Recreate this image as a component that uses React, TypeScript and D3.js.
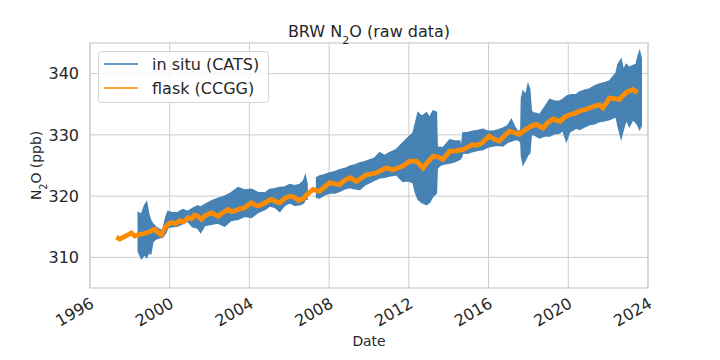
import React from 'react';
import * as d3 from 'd3';

// ---------- data (decimal years, ppb) ----------
const inSituYear = [
  1998.42, 1998.58, 1998.74, 1998.84, 1998.95, 1999.05, 1999.15, 1999.3, 1999.5, 1999.65,
  1999.8, 1999.91, 2000.1, 2000.4, 2000.65, 2000.9, 2001.15, 2001.4, 2001.55, 2001.75,
  2002.1, 2002.4, 2002.76, 2003.06, 2003.43, 2003.76, 2004.1, 2004.41, 2004.77, 2005.02,
  2005.27, 2005.52, 2005.77, 2006.02, 2006.27, 2006.52, 2006.72, 2006.8, 2006.89, 2007.1,
  2007.37, 2007.52, 2007.77, 2008.03, 2008.28, 2008.53, 2008.78, 2009.03, 2009.28, 2009.53,
  2009.78, 2010.03, 2010.28, 2010.53, 2010.78, 2011.03, 2011.37, 2011.7, 2011.94, 2012.21,
  2012.34, 2012.46, 2012.64, 2012.88, 2013.04, 2013.21, 2013.38, 2013.42, 2013.55, 2013.71,
  2014.05, 2014.3, 2014.55, 2014.63, 2014.71, 2014.95, 2015.22, 2015.45, 2015.72, 2015.96,
  2016.22, 2016.46, 2016.72, 2016.96, 2017.14, 2017.31, 2017.48, 2017.62, 2017.65, 2017.73,
  2017.86, 2017.98, 2018.06, 2018.14, 2018.21, 2018.4, 2018.56, 2018.81, 2019.07, 2019.32,
  2019.57, 2019.72, 2019.9, 2020.07, 2020.41, 2020.57, 2020.82, 2021.07, 2021.32, 2021.57,
  2021.82, 2022.07, 2022.4, 2022.49, 2022.65, 2022.77, 2022.9, 2023.07, 2023.23, 2023.4,
  2023.5, 2023.58, 2023.66,
];
const inSituHigh = [
  317.3, 317.0, 318.5, 319.0, 317.0, 316.0, 315.5, 315.0, 314.5, 314.4,
  316.5, 317.5, 317.3, 317.3, 317.8, 317.5, 318.0, 318.4, 318.2, 318.6,
  319.2, 319.6, 320.0, 320.5, 321.4, 321.0, 321.1, 320.6, 320.5, 321.1,
  321.2, 321.4, 321.5, 321.9, 321.7, 321.9, 322.5, 323.3, 322.0, NaN,
  323.0, 323.3, 323.5, 323.8, 324.0, 324.3, 324.5, 324.9, 325.1, 325.4,
  325.6, 325.9, 326.2, 327.1, 326.6, 327.1, 327.6, 328.7, 329.5, 330.3,
  332.0, 333.6, 333.0, 333.6, 332.8, 333.9, 333.7, 328.0, 328.0, 327.9,
  329.2, 329.0, 329.0, 327.5, 330.3, 330.4, 330.6, 330.7, 330.9, 330.6,
  330.6, 330.8, 331.1, 331.5, 332.5, 331.3, 330.5, 330.8, 336.0, 337.1,
  336.5, 338.2, 337.5, 334.0, 333.6, 333.5, 333.3, 334.5, 335.8, 335.5,
  335.5, 335.8, 336.3, 336.5, 336.6, 337.0, 337.3, 337.5, 338.0, 338.3,
  338.5, 338.8, 340.1, 341.5, 342.3, 340.5, 341.5, 341.0, 341.3, 341.5,
  342.8, 343.6, 342.5,
];
const inSituLow = [
  311.0, 309.8, 310.5, 310.0, 310.8, 310.6, 312.5, 313.0, 313.2, 313.3,
  314.0, 314.9, 315.0, 315.1, 315.5, 315.9, 315.0, 314.8, 314.1, 315.2,
  315.4, 315.6, 315.1, 316.0, 316.2, 316.7, 316.5, 317.3, 317.8, 318.4,
  318.2, 317.5, 318.5, 318.9, 318.5, 318.6, 318.9, 319.5, 319.5, NaN,
  319.8, 319.7, 320.2, 320.5, 320.5, 320.8, 321.2, 321.4, 321.2, 321.1,
  321.8, 322.2, 322.6, 323.0, 323.1, 323.3, 323.5, 322.4, 322.5, 322.2,
  320.5, 319.5, 319.0, 318.6, 319.0, 320.0, 320.5, 324.5, 325.0, 325.2,
  325.4, 325.6, 326.0, 326.3, 327.1, 327.0, 327.3, 327.5, 327.6, 328.0,
  328.2, 328.3, 328.2, 328.8, 329.0, 329.2, 329.2, 328.8, 326.5, 325.2,
  326.0, 326.8, 327.0, 330.0, 330.1, 329.8, 329.5, 329.8, 329.8, 330.2,
  330.3, 330.8, 329.0, 330.5, 331.1, 330.9, 331.3, 331.7, 331.8, 332.2,
  332.3, 332.5, 333.0, 331.5, 329.5, 331.0, 332.5, 331.4, 332.5, 332.0,
  331.5, 330.9, 331.5,
];

const flaskYear = [
  1997.32, 1997.49, 1997.74, 1998.08, 1998.24, 1998.41, 1998.74, 1999.0, 1999.25, 1999.42,
  1999.58, 1999.75, 1999.91, 2000.08, 2000.3, 2000.5, 2000.7, 2000.92, 2001.09, 2001.25,
  2001.42, 2001.59, 2001.76, 2001.91, 2002.09, 2002.26, 2002.42, 2002.66, 2002.92, 2003.09,
  2003.26, 2003.51, 2003.76, 2003.91, 2004.1, 2004.26, 2004.43, 2004.6, 2004.77, 2004.93,
  2005.1, 2005.27, 2005.52, 2005.77, 2006.01, 2006.27, 2006.47, 2006.69, 2006.9, 2007.19,
  2007.36, 2007.52, 2007.77, 2008.03, 2008.28, 2008.53, 2008.78, 2009.03, 2009.37, 2009.58,
  2009.87, 2010.08, 2010.37, 2010.59, 2010.87, 2011.2, 2011.44, 2011.7, 2012.04, 2012.38,
  2012.54, 2012.71, 2012.95, 2013.21, 2013.45, 2013.71, 2014.05, 2014.35, 2014.71, 2014.95,
  2015.18, 2015.42, 2015.68, 2016.03, 2016.27, 2016.53, 2016.78, 2017.04, 2017.29, 2017.54,
  2017.88, 2018.13, 2018.4, 2018.73, 2018.97, 2019.23, 2019.57, 2019.82, 2020.07, 2020.32,
  2020.57, 2020.82, 2021.07, 2021.32, 2021.57, 2021.73, 2021.86, 2022.07, 2022.32, 2022.57,
  2022.73, 2022.9, 2023.23, 2023.48,
];
const flaskValue = [
  313.3, 313.0, 313.4, 314.0, 313.5, 313.7, 313.9, 314.2, 314.6, 314.0,
  313.7, 314.8, 315.4, 315.7, 315.5, 316.0, 315.8, 316.5, 316.3, 316.9,
  316.7, 316.2, 316.8, 317.0, 317.3, 317.0, 316.7, 317.3, 317.8, 317.5,
  317.6, 317.9, 318.1, 318.5, 318.9, 318.6, 318.4, 318.6, 318.9, 319.2,
  319.5, 319.2, 318.9, 319.6, 320.0, 319.8, 319.3, 319.6, 320.3, 321.1,
  320.9, 320.8, 321.5, 322.2, 322.0, 321.9, 322.6, 323.0, 322.4, 322.9,
  323.5, 323.6, 323.8, 324.2, 324.6, 324.3, 324.6, 324.9, 325.7, 325.7,
  325.2, 324.6, 325.6, 326.5, 326.4, 326.0, 327.3, 327.4, 327.6, 328.0,
  328.4, 328.3, 328.7, 329.8, 329.3, 329.0, 329.8, 330.6, 330.4, 330.1,
  330.9, 331.4, 331.7, 331.1, 332.0, 332.6, 332.2, 332.9, 333.3, 333.5,
  333.9, 334.1, 334.4, 334.7, 334.9, 334.4, 335.0, 336.0, 335.9, 335.8,
  336.4, 336.9, 337.4, 336.9,
];

const yTicks = [310, 320, 330, 340];
const xTickYears = [1996, 2000, 2004, 2008, 2012, 2016, 2020, 2024];
const seriesLabels = ['in situ (CATS)', 'flask (CCGG)'];

// ---------- helpers ----------
function yearToDate(y: number): Date {
  const yr = Math.floor(y);
  const s = new Date(yr, 0, 1).getTime();
  const e = new Date(yr + 1, 0, 1).getTime();
  return new Date(s + (y - yr) * (e - s));
}

const FONT = '"DejaVu Sans", sans-serif';
const TXT = '#262626';
const GRID = '#cccccc';

export default function App() {
  const L = 90, R = 648, T = 43, B = 288;
  const x = d3.scaleTime().domain([new Date(1996, 0, 1), new Date(2024, 0, 1)]).range([L, R]);
  const y = d3.scaleLinear().domain([305, 345]).range([B, T]);

  const band = inSituYear.map((yr, i) => ({ d: yearToDate(yr), lo: inSituLow[i], hi: inSituHigh[i] }));
  const area = d3.area<any>()
    .defined((p) => !isNaN(p.lo) && !isNaN(p.hi))
    .x((p) => x(p.d))
    .y0((p) => y(p.lo))
    .y1((p) => y(p.hi));
  const bandPath = area(band) || '';

  const flask = flaskYear.map((yr, i) => ({ d: yearToDate(yr), v: flaskValue[i] }));
  const line = d3.line<any>().x((p) => x(p.d)).y((p) => y(p.v));
  const flaskPath = line(flask) || '';

  return (
    <svg width={720} height={360} style={{ display: 'block', position: 'absolute', left: 0, top: 0 }} fontFamily={FONT}>
      <rect x={0} y={0} width={720} height={360} fill="#ffffff" />
      {/* grid */}
      {xTickYears.map((yr) => (
        <line key={'gx' + yr} x1={x(new Date(yr, 0, 1))} x2={x(new Date(yr, 0, 1))} y1={T} y2={B} stroke={GRID} strokeWidth={1} />
      ))}
      {yTicks.map((v) => (
        <line key={'gy' + v} x1={L} x2={R} y1={y(v)} y2={y(v)} stroke={GRID} strokeWidth={1} />
      ))}
      <defs>
        <clipPath id="plotclip">
          <rect x={L} y={T} width={R - L} height={B - T} />
        </clipPath>
      </defs>
      <g clipPath="url(#plotclip)">
        <path d={bandPath} fill="#4682b4" stroke="#4682b4" strokeWidth={1.5} strokeLinejoin="miter" />
        <path d={flaskPath} fill="none" stroke="#ff8c00" strokeWidth={4.8} strokeLinejoin="miter" />
      </g>
      {/* spines */}
      <rect x={L} y={T} width={R - L} height={B - T} fill="none" stroke={GRID} strokeWidth={1.25} />
      {/* y tick labels */}
      {yTicks.map((v) => (
        <text key={'yt' + v} x={L - 11} y={y(v)} dy="0.36em" textAnchor="end" fontSize={16} fill={TXT}>{v}</text>
      ))}
      {/* x tick labels rotated */}
      {xTickYears.map((yr) => {
        const px = x(new Date(yr, 0, 1));
        return (
          <text key={'xt' + yr} transform={`translate(${px - 1},${B + 8}) rotate(-30)`} dy="0.76em" textAnchor="end" fontSize={16} fill={TXT}>{yr}</text>
        );
      })}
      {/* axis labels */}
      <text x={(L + R) / 2} y={346} textAnchor="middle" fontSize={13.9} fill={TXT}>Date</text>
      <text transform={`translate(41,${(T + B) / 2}) rotate(-90)`} textAnchor="middle" fontSize={13.9} fill={TXT}>
        N<tspan baselineShift="sub" fontSize="70%">2</tspan>O (ppb)
      </text>
      {/* title */}
      <text x={(L + R) / 2} y={37} textAnchor="middle" fontSize={16} fill={TXT}>
        BRW N<tspan baselineShift="sub" fontSize="70%">2</tspan>O (raw data)
      </text>
      {/* legend */}
      <rect x={98.5} y={51.5} width={170} height={51} rx={3} fill="#ffffff" fillOpacity={0.8} stroke="#cccccc" strokeOpacity={0.8} />
      <line x1={104} x2={138} y1={64} y2={64} stroke="#6b9bc3" strokeWidth={2} />
      <line x1={104} x2={138} y1={88} y2={88} stroke="#ffa333" strokeWidth={2} />
      <text x={152} y={64} dy="0.36em" fontSize={16} fill={TXT}>{seriesLabels[0]}</text>
      <text x={152} y={88} dy="0.36em" fontSize={16} fill={TXT}>{seriesLabels[1]}</text>
    </svg>
  );
}
